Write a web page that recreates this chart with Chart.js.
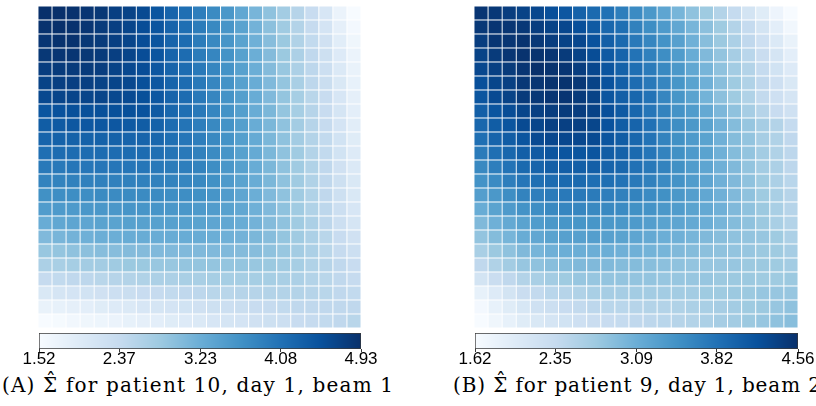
<!DOCTYPE html>
<html><head><meta charset="utf-8">
<script src="https://cdn.jsdelivr.net/npm/chart.js@4.4.1/dist/chart.umd.min.js"></script>
<style>
html,body{margin:0;padding:0;background:#fff;width:816px;height:406px;overflow:hidden;position:relative}
.box{position:absolute}
.cap{position:absolute;font-family:"DejaVu Serif",serif;font-size:20px;color:#000;white-space:nowrap;line-height:1}
.sig{position:relative;display:inline-block}
.hat{position:absolute;left:0;width:100%;text-align:center;top:-0.22em;letter-spacing:0}
</style></head><body>
<div class="box" style="left:38px;top:6px;width:323px;height:322px"><canvas id="hmA" width="323" height="322"></canvas></div>
<div class="box" style="left:474px;top:6px;width:324px;height:322px"><canvas id="hmB" width="324" height="322"></canvas></div>
<div class="box" style="left:19px;top:332px;width:362px;height:35px"><canvas id="cbA" width="362" height="35"></canvas></div>
<div class="box" style="left:455px;top:332px;width:363px;height:35px"><canvas id="cbB" width="363" height="35"></canvas></div>
<div class="cap" id="capA" style="left:2px;top:375px">(A) <span class="sig">Σ<span class="hat">ˆ</span></span> for patient 10, day 1, beam 1</div>
<div class="cap" id="capB" style="left:453px;top:375px">(B) <span class="sig">Σ<span class="hat">ˆ</span></span> for patient 9, day 1, beam 2</div>
<script>
// ---- data ----
const columns = ['1','2','3','4','5','6','7','8','9','10','11','12','13','14','15','16','17','18','19','20','21','22','23'];
const rows = ['1','2','3','4','5','6','7','8','9','10','11','12','13','14','15','16','17','18','19','20','21','22','23'];

const rangeA = [1.52, 4.93];
const ticksA = ['1.52','2.37','3.23','4.08','4.93'];
const rangeB = [1.62, 4.56];
const ticksB = ['1.62','2.35','3.09','3.82','4.56'];

// Sigma-hat, patient 10, day 1, beam 1 (row 1 = top)
const sigmaA = [
[4.93,4.93,4.90,4.86,4.83,4.73,4.69,4.59,4.45,4.25,4.11,3.91,3.74,3.57,3.33,3.12,2.92,2.75,2.54,2.34,2.07,1.72,1.52],
[4.90,4.93,4.90,4.86,4.79,4.73,4.66,4.55,4.45,4.25,4.11,3.94,3.77,3.60,3.40,3.16,2.95,2.78,2.58,2.37,2.13,1.83,1.59],
[4.86,4.90,4.90,4.83,4.79,4.73,4.66,4.55,4.45,4.25,4.15,3.94,3.77,3.60,3.40,3.19,2.99,2.82,2.61,2.41,2.20,1.90,1.66],
[4.83,4.86,4.86,4.83,4.79,4.73,4.66,4.55,4.45,4.25,4.15,3.94,3.80,3.63,3.43,3.23,3.02,2.82,2.65,2.44,2.24,1.96,1.72],
[4.76,4.79,4.79,4.79,4.76,4.69,4.62,4.55,4.42,4.25,4.15,3.98,3.80,3.63,3.43,3.23,3.02,2.85,2.65,2.47,2.27,2.00,1.76],
[4.69,4.73,4.73,4.73,4.69,4.66,4.62,4.52,4.42,4.25,4.15,3.98,3.80,3.63,3.43,3.26,3.05,2.88,2.68,2.47,2.30,2.03,1.79],
[4.62,4.66,4.66,4.66,4.66,4.62,4.59,4.52,4.42,4.25,4.15,3.98,3.80,3.63,3.46,3.26,3.05,2.88,2.71,2.51,2.34,2.07,1.83],
[4.45,4.49,4.52,4.52,4.52,4.52,4.52,4.49,4.38,4.21,4.11,3.98,3.80,3.63,3.46,3.26,3.09,2.88,2.71,2.54,2.34,2.10,1.86],
[4.35,4.38,4.42,4.42,4.42,4.42,4.38,4.35,4.28,4.15,4.04,3.91,3.77,3.63,3.46,3.26,3.09,2.92,2.75,2.54,2.37,2.13,1.90],
[4.25,4.28,4.28,4.28,4.28,4.28,4.25,4.25,4.21,4.11,4.01,3.91,3.77,3.63,3.46,3.29,3.09,2.92,2.75,2.58,2.41,2.17,1.93],
[4.11,4.15,4.15,4.15,4.15,4.15,4.15,4.15,4.11,4.04,3.98,3.87,3.74,3.60,3.43,3.29,3.09,2.92,2.78,2.58,2.41,2.17,1.96],
[3.98,3.98,4.01,4.01,4.01,4.01,4.01,4.01,3.98,3.94,3.91,3.84,3.70,3.57,3.43,3.26,3.09,2.92,2.78,2.61,2.44,2.20,2.00],
[3.84,3.84,3.87,3.87,3.87,3.87,3.87,3.87,3.87,3.84,3.80,3.77,3.67,3.53,3.40,3.26,3.09,2.92,2.78,2.61,2.44,2.24,2.03],
[3.67,3.70,3.70,3.70,3.74,3.74,3.74,3.74,3.74,3.70,3.70,3.67,3.60,3.50,3.36,3.23,3.05,2.92,2.78,2.61,2.44,2.24,2.03],
[3.50,3.53,3.53,3.57,3.57,3.57,3.60,3.60,3.60,3.57,3.57,3.53,3.50,3.43,3.33,3.19,3.05,2.92,2.78,2.61,2.47,2.27,2.07],
[3.26,3.33,3.36,3.36,3.40,3.40,3.43,3.43,3.43,3.43,3.43,3.40,3.36,3.33,3.26,3.16,3.02,2.92,2.78,2.65,2.47,2.27,2.10],
[3.05,3.12,3.16,3.19,3.23,3.23,3.26,3.26,3.26,3.26,3.26,3.26,3.23,3.19,3.16,3.09,2.99,2.88,2.78,2.65,2.51,2.34,2.20],
[2.85,2.88,2.92,2.95,2.99,2.99,3.02,3.02,3.05,3.05,3.05,3.05,3.05,3.05,3.02,2.99,2.92,2.85,2.75,2.65,2.51,2.37,2.27],
[2.65,2.68,2.71,2.75,2.75,2.78,2.82,2.82,2.85,2.85,2.88,2.88,2.88,2.88,2.88,2.85,2.82,2.78,2.71,2.61,2.54,2.44,2.34],
[2.37,2.41,2.44,2.47,2.51,2.54,2.58,2.61,2.65,2.65,2.68,2.68,2.71,2.71,2.71,2.71,2.71,2.68,2.65,2.58,2.51,2.44,2.37],
[2.03,2.10,2.13,2.17,2.20,2.27,2.30,2.34,2.37,2.41,2.44,2.47,2.51,2.51,2.54,2.54,2.58,2.58,2.58,2.54,2.51,2.44,2.41],
[1.76,1.79,1.83,1.86,1.93,1.96,2.00,2.07,2.10,2.13,2.17,2.20,2.24,2.27,2.30,2.34,2.37,2.41,2.44,2.44,2.44,2.44,2.44],
[1.52,1.55,1.62,1.66,1.69,1.72,1.79,1.83,1.86,1.93,1.96,2.00,2.07,2.10,2.13,2.20,2.24,2.27,2.34,2.37,2.41,2.44,2.51]
];

// Sigma-hat, patient 9, day 1, beam 2 (row 1 = top)
const sigmaB = [
[4.50,4.47,4.41,4.35,4.30,4.21,4.12,4.00,3.91,3.83,3.68,3.53,3.38,3.21,3.00,2.83,2.71,2.53,2.36,2.15,1.97,1.77,1.62],
[4.47,4.50,4.50,4.47,4.41,4.35,4.30,4.21,4.09,3.94,3.85,3.65,3.50,3.35,3.18,3.00,2.85,2.71,2.53,2.36,2.15,1.91,1.71],
[4.41,4.50,4.50,4.53,4.47,4.41,4.35,4.30,4.18,4.03,3.91,3.74,3.59,3.44,3.27,3.06,2.88,2.74,2.59,2.41,2.24,2.03,1.83],
[4.35,4.44,4.50,4.53,4.53,4.50,4.44,4.35,4.24,4.09,3.97,3.80,3.65,3.50,3.33,3.12,2.94,2.80,2.65,2.47,2.30,2.12,1.91],
[4.30,4.38,4.44,4.50,4.56,4.53,4.50,4.41,4.30,4.15,4.00,3.85,3.71,3.56,3.38,3.18,3.00,2.83,2.68,2.53,2.36,2.18,2.00],
[4.21,4.32,4.38,4.47,4.50,4.53,4.53,4.47,4.35,4.18,4.03,3.88,3.74,3.59,3.41,3.24,3.06,2.88,2.71,2.56,2.41,2.24,2.06],
[4.15,4.27,4.35,4.44,4.47,4.50,4.50,4.44,4.35,4.15,4.03,3.94,3.80,3.59,3.41,3.24,3.03,2.85,2.71,2.56,2.38,2.24,2.12],
[4.03,4.15,4.24,4.32,4.38,4.41,4.44,4.41,4.35,4.21,4.09,3.94,3.77,3.62,3.44,3.33,3.15,2.97,2.83,2.65,2.50,2.33,2.21],
[3.94,4.06,4.15,4.27,4.32,4.38,4.38,4.38,4.32,4.18,4.06,3.97,3.83,3.65,3.50,3.38,3.24,3.06,2.91,2.77,2.65,2.53,2.36],
[3.85,3.97,4.06,4.15,4.27,4.30,4.30,4.30,4.27,4.15,4.06,3.94,3.80,3.62,3.47,3.35,3.24,3.06,2.91,2.80,2.65,2.56,2.41],
[3.71,3.85,3.94,4.03,4.09,4.15,4.15,4.15,4.15,4.06,4.00,3.91,3.77,3.62,3.47,3.35,3.24,3.06,2.91,2.80,2.68,2.56,2.44],
[3.56,3.68,3.80,3.91,3.97,4.03,4.03,4.03,4.03,3.97,3.94,3.83,3.74,3.62,3.47,3.33,3.21,3.06,2.94,2.80,2.68,2.59,2.44],
[3.44,3.53,3.68,3.77,3.85,3.88,3.91,3.91,3.85,3.85,3.80,3.74,3.65,3.53,3.44,3.33,3.21,3.06,2.94,2.83,2.71,2.59,2.47],
[3.30,3.38,3.50,3.62,3.68,3.71,3.74,3.74,3.71,3.68,3.65,3.62,3.53,3.47,3.38,3.30,3.18,3.06,2.94,2.83,2.71,2.62,2.50],
[3.12,3.24,3.35,3.44,3.50,3.56,3.59,3.59,3.56,3.56,3.53,3.47,3.44,3.38,3.33,3.24,3.15,3.06,2.94,2.83,2.74,2.62,2.50],
[2.94,3.06,3.15,3.24,3.33,3.38,3.41,3.41,3.41,3.38,3.38,3.35,3.30,3.24,3.21,3.15,3.09,3.00,2.91,2.83,2.74,2.62,2.53],
[2.80,2.91,3.00,3.12,3.18,3.24,3.27,3.27,3.30,3.27,3.24,3.21,3.15,3.09,3.06,3.00,2.94,2.88,2.83,2.80,2.77,2.71,2.59],
[2.62,2.74,2.83,2.94,3.00,3.06,3.09,3.09,3.09,3.09,3.06,3.06,3.03,3.00,2.94,2.91,2.85,2.83,2.80,2.77,2.74,2.71,2.65],
[2.41,2.56,2.68,2.77,2.83,2.88,2.91,2.94,2.94,2.94,2.91,2.91,2.88,2.85,2.83,2.80,2.77,2.77,2.77,2.74,2.74,2.71,2.68],
[2.15,2.30,2.41,2.53,2.62,2.68,2.71,2.77,2.77,2.80,2.80,2.80,2.80,2.77,2.77,2.77,2.77,2.74,2.74,2.74,2.71,2.71,2.74],
[1.86,2.00,2.15,2.30,2.38,2.47,2.50,2.56,2.62,2.65,2.65,2.68,2.68,2.68,2.68,2.68,2.71,2.71,2.74,2.74,2.77,2.77,2.77],
[1.68,1.86,1.97,2.09,2.21,2.27,2.33,2.38,2.44,2.47,2.47,2.50,2.53,2.53,2.56,2.59,2.62,2.65,2.68,2.71,2.74,2.77,2.83],
[1.62,1.74,1.86,1.97,2.06,2.12,2.18,2.24,2.30,2.33,2.36,2.41,2.44,2.47,2.50,2.53,2.59,2.65,2.68,2.74,2.77,2.83,2.88]
];

// ---- colour scale (Blues) ----
const BLUES = [[247,251,255],[222,235,247],[198,219,239],[158,202,225],[107,174,214],[66,146,198],[33,113,181],[8,81,156],[8,48,107]];
function blues(t){
  t = Math.max(0, Math.min(1, t));
  const s = t * (BLUES.length - 1);
  const i = Math.min(BLUES.length - 2, Math.floor(s));
  const f = s - i, a = BLUES[i], b = BLUES[i + 1];
  return 'rgb(' + [0,1,2].map(k => Math.round(a[k] + (b[k] - a[k]) * f)).join(',') + ')';
}

function heatmap(id, matrix, range){
  const datasets = [];
  for (let r = rows.length - 1; r >= 0; r--) {
    datasets.push({
      label: rows[r],
      data: columns.map(() => 1),
      backgroundColor: matrix[r].map(v => blues((v - range[0]) / (range[1] - range[0]))),
      borderColor: '#ffffff',
      borderWidth: 0.8,
      borderSkipped: false,
      barPercentage: 1,
      categoryPercentage: 1
    });
  }
  new Chart(document.getElementById(id), {
    type: 'bar',
    data: { labels: columns, datasets },
    options: {
      responsive: false, animation: false,
      layout: { padding: 0 },
      plugins: { legend: { display: false }, tooltip: { enabled: false } },
      scales: {
        x: { display: false, stacked: true },
        y: { display: false, stacked: true, min: 0, max: rows.length }
      }
    }
  });
}

function colorbar(id, range, tickLabels){
  new Chart(document.getElementById(id), {
    type: 'bar',
    data: { labels: [''], datasets: [{
      data: [[range[0], range[1]]],
      backgroundColor: (ctx) => {
        const area = ctx.chart.chartArea;
        if (!area) return '#fff';
        const g = ctx.chart.ctx.createLinearGradient(area.left, 0, area.right, 0);
        BLUES.forEach((c, i) => g.addColorStop(i / (BLUES.length - 1), 'rgb(' + c.join(',') + ')'));
        return g;
      },
      borderColor: '#3a3a3a', borderWidth: 1, borderSkipped: false,
      barPercentage: 1, categoryPercentage: 1
    }]},
    options: {
      indexAxis: 'y', responsive: false, animation: false,
      layout: { padding: { top: 1, left: 20, right: 20, bottom: 0 } },
      plugins: { legend: { display: false }, tooltip: { enabled: false } },
      scales: {
        y: { display: false },
        x: {
          type: 'linear', min: range[0], max: range[1],
          afterBuildTicks: (s) => { s.ticks = tickLabels.map(t => ({ value: parseFloat(t) })); },
          afterFit: (s) => { s.height = 18; },
          border: { display: false },
          grid: { drawOnChartArea: false, drawTicks: true, tickLength: 3, color: '#3a3a3a', lineWidth: 1 },
          ticks: {
            autoSkip: false, maxRotation: 0, padding: 1, color: '#000',
            font: { family: '"Liberation Sans", Arial, sans-serif', size: 17, lineHeight: 0.8 },
            callback: (v) => { const i = tickLabels.findIndex(t => Math.abs(parseFloat(t) - v) < 1e-6); return i >= 0 ? tickLabels[i] : ''; }
          }
        }
      }
    }
  });
}

heatmap('hmA', sigmaA, rangeA);
heatmap('hmB', sigmaB, rangeB);
colorbar('cbA', rangeA, ticksA);
colorbar('cbB', rangeB, ticksB);

// caption width fit
function fitCaption(id, target){
  const el = document.getElementById(id);
  const w = el.getBoundingClientRect().width;
  const n = [...el.textContent].length - 2;
  el.style.letterSpacing = ((target - w) / n) + 'px';
}
fitCaption('capA', 391);
fitCaption('capB', 368);
</script>
</body></html>
